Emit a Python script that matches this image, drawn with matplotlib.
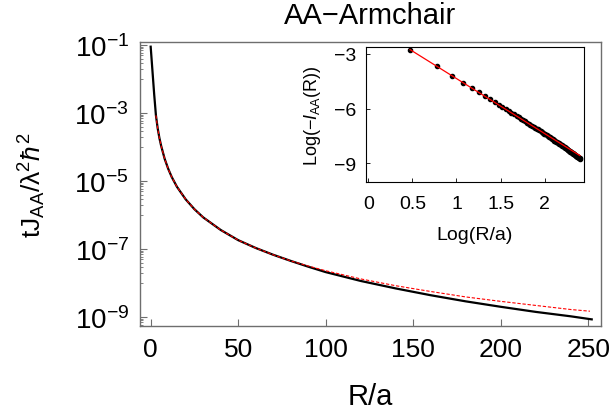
import numpy as np
import matplotlib
matplotlib.use("Agg")
import matplotlib.pyplot as plt
from matplotlib.ticker import FixedLocator, FixedFormatter

plt.rcParams['font.family'] = ['Liberation Sans', 'DejaVu Sans']
plt.rcParams['mathtext.fontset'] = 'custom'
plt.rcParams['mathtext.rm'] = 'Liberation Sans'
plt.rcParams['mathtext.it'] = 'Liberation Sans:italic'
plt.rcParams['mathtext.bf'] = 'Liberation Sans:bold'

# ---------------- data ----------------
# main panel: black numerical curve, exponents of 10
R_black = [0, 1, 2, 3, 4, 5, 6, 8, 10, 12, 15, 20, 25, 30, 40, 50, 60, 70, 80,
           90, 100, 120, 140, 160, 180, 200, 220, 240, 252]
logJ_black = [-1.05, -1.75, -2.45, -3.07, -3.45, -3.74, -3.97, -4.35, -4.64, -4.88,
              -5.17, -5.54, -5.83, -6.07, -6.44, -6.74, -6.97, -7.17, -7.35,
              -7.52, -7.68, -7.94, -8.16, -8.36, -8.54, -8.70, -8.85, -8.98, -9.07]
# main panel: red dashed power-law fit, exponents of 10
R_red = [3, 4, 5, 6, 8, 10, 12, 15, 20, 25, 30, 40, 50, 60, 70, 80, 90, 100,
         120, 140, 160, 180, 200, 220, 240, 251]
logJ_red = [-3.07, -3.45, -3.74, -3.97, -4.35, -4.64, -4.88, -5.17, -5.54, -5.83,
            -6.07, -6.44, -6.74, -6.97, -7.17, -7.35, -7.50, -7.64, -7.88, -8.08,
            -8.25, -8.41, -8.54, -8.66, -8.78, -8.83]

# inset: points at R = 3, 6, ..., 252
R_inset = list(range(3, 253, 3))
logI_inset = [-2.76, -3.65, -4.20, -4.58, -4.87, -5.10, -5.31, -5.48, -5.64, -5.80,
              -5.92, -6.03, -6.14, -6.23, -6.32, -6.41, -6.49, -6.56, -6.64, -6.70,
              -6.77, -6.83, -6.89, -6.94, -7.00, -7.05, -7.10, -7.15, -7.20, -7.25,
              -7.29, -7.34, -7.38, -7.42, -7.46, -7.50, -7.54, -7.58, -7.62, -7.65,
              -7.69, -7.72, -7.76, -7.79, -7.82, -7.86, -7.89, -7.92, -7.95, -7.98,
              -8.01, -8.03, -8.06, -8.09, -8.12, -8.14, -8.17, -8.20, -8.22, -8.25,
              -8.27, -8.30, -8.32, -8.34, -8.37, -8.39, -8.41, -8.44, -8.46, -8.48,
              -8.50, -8.52, -8.54, -8.57, -8.59, -8.61, -8.63, -8.65, -8.67, -8.69,
              -8.71, -8.72, -8.74, -8.76]
# inset red fit line endpoints (Log R/a, Log value)
fit_x = [0.474, 2.40]
fit_y = [-2.76, -8.59]

main_xticks = [0, 50, 100, 150, 200, 250]
main_yticks_exp = [-1, -3, -5, -7, -9]
inset_xticks = [0, 0.5, 1, 1.5, 2]
inset_xticklabels = ['0', '0.5', '1', '1.5', '2']
inset_yticks = [-3, -6, -9]
inset_yticklabels = ['\u22123', '\u22126', '\u22129']

# ---------------- figure ----------------
fig = plt.figure(figsize=(6.14, 4.14), dpi=100)
ax = fig.add_axes([140/614, (414-327)/414, (601-140)/614, (327-43)/414])

ax.plot(R_black, 10.0**np.array(logJ_black), color='black', lw=1.6, zorder=2)
ax.plot(R_red, 10.0**np.array(logJ_red), color='#ff0000', lw=0.8,
        dashes=(3, 1.6), zorder=3)
ax.set_yscale('log')
ax.set_xlim(-6.1, 257.3)
ax.set_ylim(10**-9.265, 10**-0.912)

frame_col = '#6e6e6e'
for s in ax.spines.values():
    s.set_color(frame_col)
    s.set_linewidth(1.0)

ax.xaxis.set_major_locator(FixedLocator(main_xticks))
ax.set_xticklabels([str(v) for v in main_xticks])
ax.xaxis.set_minor_locator(FixedLocator([]))
yt = [10.0**e for e in main_yticks_exp]
ax.yaxis.set_major_locator(FixedLocator(yt))
ax.yaxis.set_major_formatter(FixedFormatter([r'$10^{%d}$' % e for e in main_yticks_exp]))
minor = []
for e in main_yticks_exp:
    for k in range(2, 10):
        minor.append(k * 10.0**(e - 1))
    minor.append(10.0**(e - 1))
ax.yaxis.set_minor_locator(FixedLocator(minor))
ax.yaxis.set_minor_formatter(FixedFormatter([''] * len(minor)))

ax.tick_params(axis='both', which='major', direction='in', length=5, width=0.8,
               color=frame_col, top=False, right=False)
ax.tick_params(axis='y', which='minor', direction='in', length=2.5, width=0.6,
               color=frame_col, right=False)
ax.tick_params(axis='x', which='major', pad=8, labelsize=19)
ax.tick_params(axis='y', which='major', pad=8, labelsize=20)

ax.set_xlabel('R/a', fontsize=21, labelpad=15)
ax.set_ylabel('tJ$_{\\mathrm{AA}}$/\u03bb$^{2}$$\\hbar^{2}$', fontsize=19, labelpad=19)
ax.set_title('AA\u2212Armchair', fontsize=21, pad=14)

# ---------------- inset ----------------
ins = fig.add_axes([366/614, (414-183.3)/414, (584-366)/614, (183.3-48)/414])
ins.plot(np.log10(R_inset), logI_inset, linestyle='none', marker='o',
         markersize=3.0, color='black', zorder=2)
ins.plot(fit_x, fit_y, color='#ff0000', lw=0.9, zorder=3)
ins.set_xlim(-0.026, 2.446)
ins.set_ylim(-10.06, -2.615)
ins.xaxis.set_major_locator(FixedLocator(inset_xticks))
ins.set_xticklabels(inset_xticklabels)
ins.yaxis.set_major_locator(FixedLocator(inset_yticks))
ins.set_yticklabels(inset_yticklabels)
ins.tick_params(axis='both', direction='in', length=3, width=0.6, labelsize=14)
ins.tick_params(axis='x', pad=9)
ins.tick_params(axis='y', pad=7)
for s in ins.spines.values():
    s.set_color('black')
    s.set_linewidth(0.8)
ins.set_xlabel('Log(R/a)', fontsize=14, labelpad=10)
ins.set_ylabel(r'Log($-$$\mathit{I}_{\mathrm{AA}}$(R))', fontsize=13, labelpad=8)

fig.savefig('out.png', dpi=100)
